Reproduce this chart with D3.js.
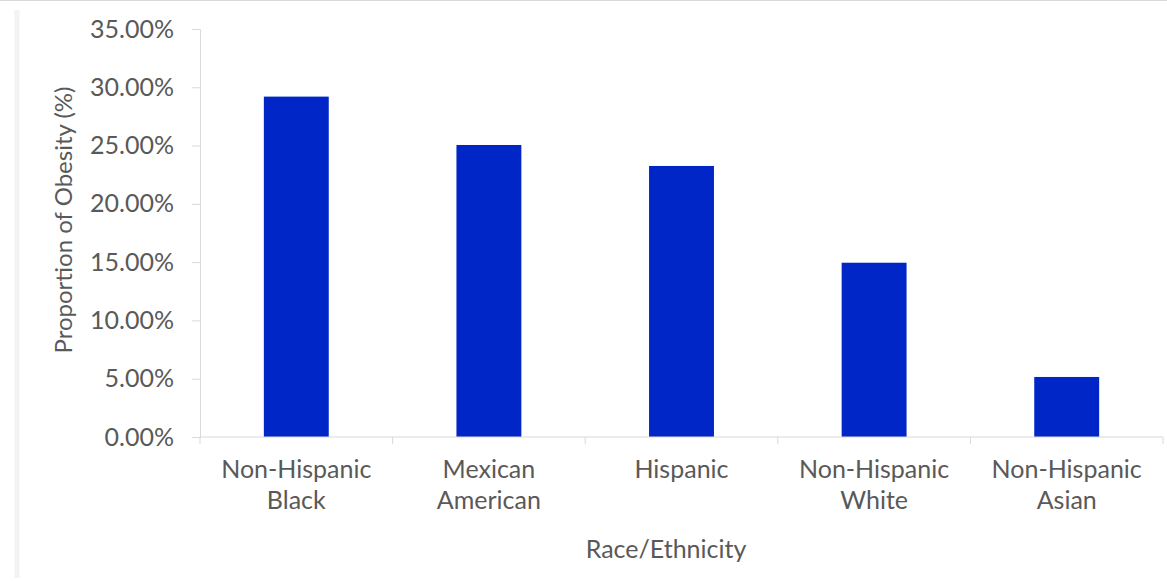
<!DOCTYPE html>
<html>
<head>
<meta charset="utf-8">
<script src="https://cdn.jsdelivr.net/npm/d3@7"></script>
<style>
  body { margin: 0; background: #fff; }
  text { font-family: Lato, "Open Sans", sans-serif; fill: #595959; }
</style>
</head>
<body>
<div class="viz"></div>
<script>
const w = 1167;
const h = 581;

// data
const groups = [["Non-Hispanic", "Black"], ["Mexican", "American"], ["Hispanic"], ["Non-Hispanic", "White"], ["Non-Hispanic", "Asian"]];
const obesity = [0.292, 0.2505, 0.2325, 0.1495, 0.0515];
const yTicks = [0, 0.05, 0.10, 0.15, 0.20, 0.25, 0.30, 0.35];

const margin = {top: 29, right: 4, bottom: 144, left: 200};

const svg = d3.select(".viz")
    .append("svg")
    .attr("width", w)
    .attr("height", h);

// frame bits from the original screenshot
svg.append("line")
    .attr("x1", 0).attr("x2", w)
    .attr("y1", 0.5).attr("y2", 0.5)
    .style("stroke", "#d9d9d9");
svg.append("line")
    .attr("x1", 17).attr("x2", 17)
    .attr("y1", 10).attr("y2", 578)
    .style("stroke", "#f3f3f3")
    .style("stroke-width", 5);

const x = d3.scaleBand()
    .domain(d3.range(groups.length))
    .range([margin.left, w - margin.right])
    .paddingInner(0.663)
    .paddingOuter(0.3315);

const y = d3.scaleLinear()
    .domain([0, 0.35])
    .range([h - margin.bottom, margin.top]);

// y axis
const yAxis = svg.append("g")
    .attr("transform", `translate(${margin.left},0)`)
    .call(d3.axisLeft(y).tickValues(yTicks).tickFormat(d3.format(".2%")).tickSize(8).tickPadding(18));
yAxis.select(".domain").style("stroke", "#d9d9d9");
yAxis.selectAll(".tick line").style("stroke", "#d9d9d9");
yAxis.selectAll(".tick text")
    .style("font-size", "25px")
    .style("fill", "#595959");

// bars
svg.selectAll("rect.bar")
    .data(obesity)
    .enter()
    .append("rect")
    .attr("class", "bar")
    .attr("x", (d, i) => x(i))
    .attr("y", d => y(d))
    .attr("width", x.bandwidth())
    .attr("height", d => y(0) - y(d))
    .style("fill", "#0026c8");

// x axis with ticks at the category boundaries
const step = x.step();
const bounds = d3.range(groups.length + 1).map(i => margin.left + i * step);
const xAxis = svg.append("g");
xAxis.append("line")
    .attr("x1", margin.left).attr("x2", w - margin.right)
    .attr("y1", y(0)).attr("y2", y(0))
    .style("stroke", "#d9d9d9");
xAxis.selectAll("line.tk")
    .data(bounds)
    .enter()
    .append("line")
    .attr("class", "tk")
    .attr("x1", d => d).attr("x2", d => d)
    .attr("y1", y(0)).attr("y2", y(0) + 7)
    .style("stroke", "#d9d9d9");

const labels = xAxis.selectAll("text.cat")
    .data(groups)
    .enter()
    .append("text")
    .attr("class", "cat")
    .attr("text-anchor", "middle")
    .attr("x", (d, i) => x(i) + x.bandwidth() / 2)
    .attr("y", y(0) + 41)
    .style("font-size", "25px");
labels.selectAll("tspan")
    .data(d => d)
    .enter()
    .append("tspan")
    .attr("x", function () { return this.parentNode.getAttribute("x"); })
    .attr("dy", (d, i) => i === 0 ? 0 : 31)
    .text(d => d);

// axis titles
svg.append("text")
    .attr("text-anchor", "middle")
    .attr("x", 666)
    .attr("y", 558)
    .style("font-size", "25px")
    .text("Race/Ethnicity");

svg.append("text")
    .attr("text-anchor", "middle")
    .attr("transform", "translate(72,220) rotate(-90)")
    .style("font-size", "24px")
    .text("Proportion of Obesity (%)");
</script>
</body>
</html>
